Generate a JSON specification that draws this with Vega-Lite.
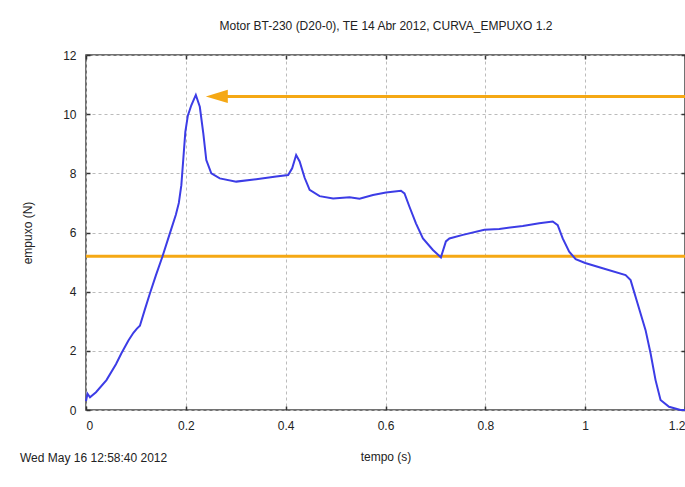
{
  "$schema": "https://vega.github.io/schema/vega-lite/v6.json",
  "width": 599,
  "height": 355,
  "autosize": {"type": "none"},
  "padding": {"left": 86, "top": 55, "right": 0, "bottom": 77},
  "background": "white",
  "title": {"text": "Wed May 16 12:58:40 2012", "orient": "bottom", "anchor": "start", "frame": "group", "dx": -66, "offset": -9, "font": "Liberation Sans", "fontSize": 12, "fontWeight": "normal", "color": "#222"},
  "config": {
    "view": {"stroke": "#444", "strokeWidth": 1.5},
    "axis": {"labelFont": "Liberation Sans", "titleFont": "Liberation Sans", "labelFontSize": 12, "titleFontSize": 12, "titleFontWeight": "normal", "labelColor": "#222", "titleColor": "#222", "domain": false, "tickColor": "#333", "tickSize": -4, "tickWidth": 1.5, "gridColor": "#bbb", "gridDash": [3, 3], "gridWidth": 1}
  },
  "datasets": {
    "curve": [
      {"t": 0.000, "f": 0.30}, {"t": 0.003, "f": 0.55}, {"t": 0.008, "f": 0.43}, {"t": 0.02, "f": 0.60},
      {"t": 0.041, "f": 1.01}, {"t": 0.06, "f": 1.55}, {"t": 0.071, "f": 1.92}, {"t": 0.085, "f": 2.35},
      {"t": 0.095, "f": 2.61}, {"t": 0.102, "f": 2.75}, {"t": 0.108, "f": 2.85}, {"t": 0.118, "f": 3.4},
      {"t": 0.128, "f": 3.94}, {"t": 0.14, "f": 4.55}, {"t": 0.153, "f": 5.18}, {"t": 0.168, "f": 5.97},
      {"t": 0.18, "f": 6.6}, {"t": 0.186, "f": 7.0}, {"t": 0.191, "f": 7.6}, {"t": 0.195, "f": 8.5},
      {"t": 0.199, "f": 9.4}, {"t": 0.204, "f": 9.95}, {"t": 0.211, "f": 10.3}, {"t": 0.220, "f": 10.65},
      {"t": 0.228, "f": 10.25}, {"t": 0.235, "f": 9.35}, {"t": 0.241, "f": 8.45}, {"t": 0.251, "f": 8.0},
      {"t": 0.268, "f": 7.83}, {"t": 0.301, "f": 7.72}, {"t": 0.341, "f": 7.8}, {"t": 0.381, "f": 7.89},
      {"t": 0.405, "f": 7.94}, {"t": 0.413, "f": 8.17}, {"t": 0.421, "f": 8.62}, {"t": 0.428, "f": 8.4},
      {"t": 0.438, "f": 7.85}, {"t": 0.448, "f": 7.44}, {"t": 0.468, "f": 7.23}, {"t": 0.495, "f": 7.15},
      {"t": 0.528, "f": 7.19}, {"t": 0.548, "f": 7.14}, {"t": 0.575, "f": 7.27}, {"t": 0.601, "f": 7.35},
      {"t": 0.631, "f": 7.41}, {"t": 0.638, "f": 7.32}, {"t": 0.648, "f": 6.87}, {"t": 0.661, "f": 6.31},
      {"t": 0.675, "f": 5.8}, {"t": 0.695, "f": 5.41}, {"t": 0.711, "f": 5.16}, {"t": 0.721, "f": 5.7},
      {"t": 0.728, "f": 5.8}, {"t": 0.755, "f": 5.92}, {"t": 0.798, "f": 6.09}, {"t": 0.828, "f": 6.12},
      {"t": 0.875, "f": 6.22}, {"t": 0.908, "f": 6.31}, {"t": 0.935, "f": 6.37}, {"t": 0.945, "f": 6.25},
      {"t": 0.955, "f": 5.8}, {"t": 0.968, "f": 5.35}, {"t": 0.981, "f": 5.1}, {"t": 1.0, "f": 4.97},
      {"t": 1.035, "f": 4.79}, {"t": 1.081, "f": 4.56}, {"t": 1.091, "f": 4.39}, {"t": 1.105, "f": 3.6},
      {"t": 1.121, "f": 2.7}, {"t": 1.131, "f": 1.92}, {"t": 1.141, "f": 1.01}, {"t": 1.151, "f": 0.34},
      {"t": 1.168, "f": 0.11}, {"t": 1.191, "f": 0.0}, {"t": 1.2, "f": 0.0}
    ],
    "lines": [
      {"name": "media", "x1": 0, "x2": 1.2, "y": 5.2},
      {"name": "pico", "x1": 0.262, "x2": 1.2, "y": 10.6}
    ],
    "arrow": [{"x": 0.262, "y": 10.6}]
  },
  "layer": [
    {
      "data": {"name": "lines"},
      "mark": {"type": "rule", "color": "#f5a814", "strokeWidth": 3},
      "encoding": {
        "x": {"field": "x1", "type": "quantitative", "scale": {"domain": [0, 1.2], "nice": false},
              "axis": {"orient": "top", "values": [0, 0.2, 0.4, 0.6, 0.8, 1, 1.2], "labels": false, "grid": false, "title": "Motor BT-230 (D20-0), TE 14 Abr 2012, CURVA_EMPUXO 1.2", "titlePadding": 22}},
        "x2": {"field": "x2"},
        "y": {"field": "y", "type": "quantitative", "scale": {"domain": [0, 12], "nice": false},
              "axis": {"orient": "right", "values": [0, 2, 4, 6, 8, 10, 12], "labels": false, "grid": false, "title": null}}
      }
    },
    {
      "data": {"name": "arrow"},
      "mark": {"type": "point", "shape": "M-1,0L1,-0.6L1,0.6Z", "filled": true, "color": "#f5a814", "size": 484, "opacity": 1},
      "encoding": {
        "x": {"field": "x", "type": "quantitative", "axis": null},
        "y": {"field": "y", "type": "quantitative", "axis": null}
      }
    },
    {
      "data": {"name": "curve"},
      "mark": {"type": "line", "color": "#3c3ce6", "strokeWidth": 2},
      "encoding": {
        "x": {"field": "t", "type": "quantitative",
              "axis": {"orient": "bottom", "values": [0, 0.2, 0.4, 0.6, 0.8, 1, 1.2], "format": "~g", "grid": true, "labelPadding": 14, "title": "tempo (s)", "titlePadding": 20}},
        "y": {"field": "f", "type": "quantitative",
              "axis": {"orient": "left", "values": [0, 2, 4, 6, 8, 10, 12], "grid": true, "labelPadding": 14, "title": "empuxo (N)", "titlePadding": 28}}
      }
    }
  ],
  "resolve": {"axis": {"x": "independent", "y": "independent"}}
}
